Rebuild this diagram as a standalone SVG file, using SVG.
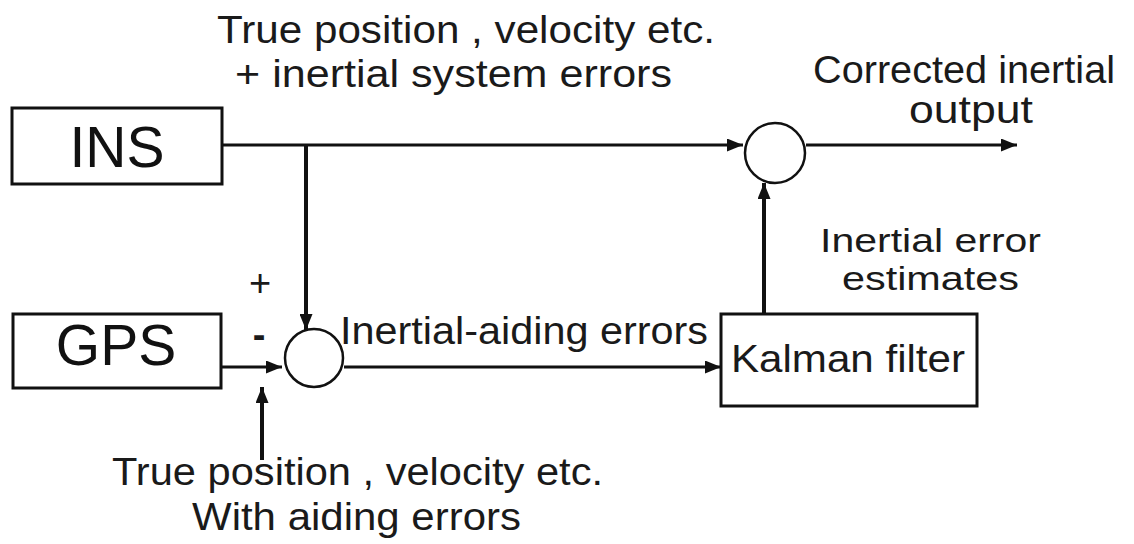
<svg xmlns="http://www.w3.org/2000/svg" width="1134" height="544" viewBox="0 0 1134 544">
<style>
.box{fill:#fff;stroke:#111;stroke-width:3}
.sum{fill:#fff;stroke:#111;stroke-width:2.5}
.ln{fill:none;stroke:#111;stroke-width:3}
.v{stroke-width:4}
.t{font-family:"Liberation Sans",Arial,sans-serif;font-size:38px;fill:#1a1a1a}
.s{font-size:34px}
.big{font-family:"Liberation Sans",Arial,sans-serif;font-size:57px;fill:#111;text-anchor:middle}
</style>
<defs>
<marker id="ah" viewBox="0 0 16 13" refX="16" refY="6.5" markerWidth="16" markerHeight="13" orient="auto" markerUnits="userSpaceOnUse">
<path d="M0,0 L16,6.5 L0,13 z" fill="#111"/>
</marker>
</defs>
<rect width="1134" height="544" fill="#fff"/>
<g id="connectors">
<path class="ln" d="M222,145 H743" marker-end="url(#ah)"/>
<path class="ln" d="M806,145 H1017" marker-end="url(#ah)"/>
<path class="ln v" d="M764,314 V183" marker-end="url(#ah)"/>
<path class="ln v" d="M306,145 V330" marker-end="url(#ah)"/>
<path class="ln" d="M221,367 H282" marker-end="url(#ah)"/>
<path class="ln v" d="M262,460 V387" marker-end="url(#ah)"/>
<path class="ln" d="M344,367 H721" marker-end="url(#ah)"/>
</g>
<g id="ins">
<rect class="box" x="12" y="108" width="210" height="76"/>
<text class="big" x="117" y="167">INS</text>
</g>
<g id="gps">
<rect class="box" x="13" y="314" width="208" height="74"/>
<text class="big" x="116" y="365">GPS</text>
</g>
<g id="sum1">
<circle class="sum" cx="775" cy="153" r="30"/>
</g>
<g id="sum2">
<circle class="sum" cx="314" cy="358" r="29"/>
</g>
<g id="kalman">
<rect class="box" x="721" y="314" width="256" height="92"/>
<text class="t" x="731" y="372" textLength="234" lengthAdjust="spacingAndGlyphs">Kalman filter</text>
</g>
<g id="labels">
<text class="t" x="217" y="43" textLength="498" lengthAdjust="spacingAndGlyphs">True position , velocity etc.</text>
<text class="t" x="235" y="87" textLength="437" lengthAdjust="spacingAndGlyphs">+ inertial system errors</text>
<text class="t" x="813" y="83" textLength="302" lengthAdjust="spacingAndGlyphs">Corrected inertial</text>
<text class="t" x="909" y="123" textLength="124" lengthAdjust="spacingAndGlyphs">output</text>
<text class="t s" x="820" y="252" textLength="221" lengthAdjust="spacingAndGlyphs">Inertial error</text>
<text class="t s" x="842" y="290" textLength="177" lengthAdjust="spacingAndGlyphs">estimates</text>
<text class="t" x="340" y="344" textLength="368" lengthAdjust="spacingAndGlyphs">Inertial-aiding errors</text>
<text class="t" x="260" y="296" text-anchor="middle" font-size="30">+</text>
<text class="t" x="259" y="348" text-anchor="middle" font-weight="bold">-</text>
<text class="t" x="112" y="485" textLength="491" lengthAdjust="spacingAndGlyphs">True position , velocity etc.</text>
<text class="t" x="192" y="530" textLength="329" lengthAdjust="spacingAndGlyphs">With aiding errors</text>
</g>
</svg>
